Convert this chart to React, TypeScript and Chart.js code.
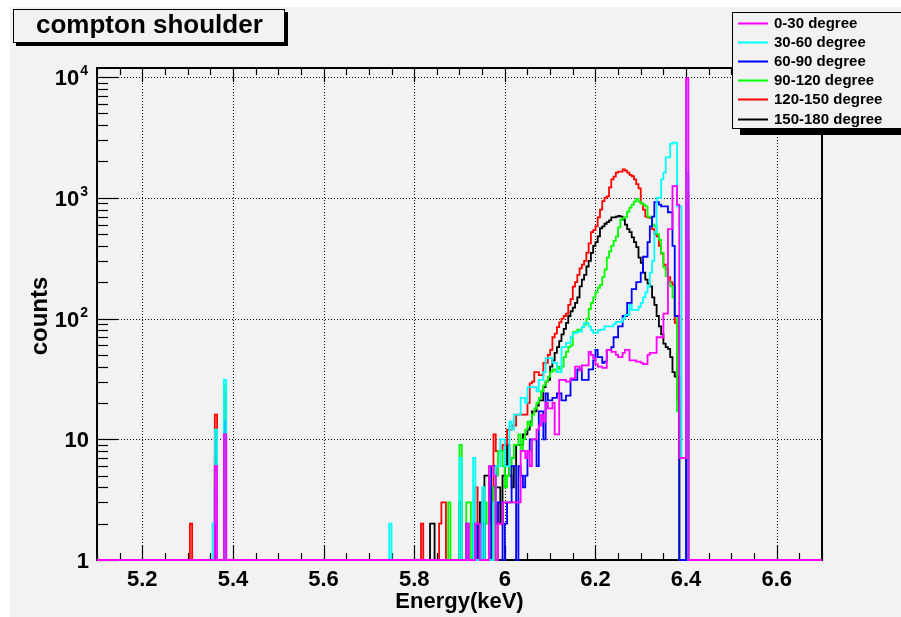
import React, { useEffect, useRef } from 'react';
import { Chart, registerables } from 'chart.js';

Chart.register(...registerables);

// ---------- axis setup ----------
const X_MIN = 5.1;
const X_MAX = 6.7;
const BIN_WIDTH = 0.005;
const MAIN_START = 5.8; // first energy of the "main" arrays below
const Y_MIN = 1;
const Y_MAX = 11900;

const xTickValues = [5.2, 5.4, 5.6, 5.8, 6.0, 6.2, 6.4, 6.6];
const xTickLabels = ['5.2', '5.4', '5.6', '5.8', '6', '6.2', '6.4', '6.6'];
const yTickValues = [1, 10, 100, 1000, 10000];
const yTickBase = ['1', '10', '10', '10', '10'];
const yTickExp = ['', '', '2', '3', '4'];

const seriesLabels = ['0-30 degree', '30-60 degree', '60-90 degree', '90-120 degree', '120-150 degree', '150-180 degree'];
const seriesColors = ['#ff00ff', '#00ffff', '#0000ff', '#00ff00', '#ff0000', '#000000'];

// ---------- isolated low-energy bins: [energy (bin low edge), counts] ----------
const magentaLow = [[5.36, 6], [5.38, 11]];
const cyanLow = [[5.355, 2], [5.36, 12], [5.38, 31], [5.745, 2]];
const blueLow = [[5.36, 4], [5.38, 14]];
const greenLow = [[5.36, 5], [5.38, 28]];
const redLow = [[5.305, 2], [5.36, 16], [5.38, 24]];
const blackLow = [[5.36, 7], [5.38, 9]];

// ---------- main region: counts per 0.005 keV bin, starting at 5.800 keV ----------
const magentaMain = [
  0, 0, 0, 0, 0, 0, 0, 0, 0, 0, 0, 0, 0, 0, 0, 0, 0, 0, 0, 0,
  0, 0, 0, 2, 0, 0, 0, 2, 2, 0, 0, 0, 0, 6, 6, 5, 0, 2, 2, 3,
  3, 3, 3, 3, 3, 3, 3, 8, 8, 7, 8, 6, 10, 10, 12, 13, 16, 14, 20, 18,
  18, 20, 11, 11, 31, 31, 31, 30, 30, 32, 32, 40, 40, 37, 41, 41, 41, 53, 50, 47,
  42, 40, 40, 39, 39, 55, 55, 53, 53, 50, 48, 48, 52, 55, 55, 45, 45, 45, 44, 44,
  43, 42, 42, 50, 52, 52, 52, 70, 70, 70, 110, 110, 550, 550, 1250, 1250, 880, 7, 7, 7,
  9800, 0,
];
const cyanMain = [
  0, 0, 0, 0, 0, 0, 0, 0, 0, 0, 0, 0, 0, 0, 0, 0, 0, 0, 0, 0,
  7, 0, 0, 0, 0, 0, 7, 0, 0, 0, 4, 0, 0, 0, 0, 3, 6, 6, 10, 10,
  6, 6, 14, 12, 16, 16, 16, 22, 22, 20, 27, 27, 27, 27, 25, 31, 31, 36, 47, 47,
  47, 43, 43, 36, 36, 58, 58, 63, 63, 70, 76, 76, 78, 78, 85, 92, 92, 86, 80, 76,
  76, 80, 81, 81, 86, 86, 86, 86, 90, 94, 94, 94, 100, 107, 107, 130, 118, 118, 118, 125,
  135, 150, 165, 185, 240, 300, 520, 1000, 1000, 1420, 1620, 2160, 2160, 2800, 2870, 2870, 850, 850, 7, 7,
  8700, 0,
];
const blueMain = [
  0, 0, 0, 0, 0, 0, 0, 0, 0, 0, 0, 0, 0, 0, 0, 0, 0, 0, 0, 0,
  0, 0, 0, 2, 0, 0, 0, 2, 0, 0, 2, 0, 0, 0, 6, 6, 2, 3, 3, 0,
  2, 3, 3, 6, 6, 0, 6, 5, 4, 5, 8, 10, 10, 10, 6, 17, 17, 10, 24, 21,
  21, 22, 22, 24, 24, 21, 21, 23, 23, 31, 31, 31, 38, 38, 31, 31, 31, 38, 38, 45,
  55, 48, 48, 43, 44, 55, 55, 58, 70, 70, 86, 86, 105, 105, 135, 135, 175, 175, 200, 200,
  240, 325, 325, 430, 580, 700, 920, 920, 880, 850, 850, 850, 760, 760, 400, 105, 105, 0, 0, 0,
  1600, 0,
];
const greenMain = [
  0, 0, 0, 0, 0, 0, 0, 0, 0, 0, 0, 0, 0, 0, 0, 3, 0, 0, 0, 0,
  9, 0, 0, 3, 3, 0, 0, 0, 0, 0, 0, 3, 2, 0, 4, 0, 5, 8, 8, 6,
  4, 5, 6, 7, 9, 9, 11, 8, 10, 12, 14, 13, 16, 18, 20, 22, 25, 28, 30, 33,
  36, 38, 37, 40, 38, 40, 48, 53, 58, 60, 77, 78, 81, 81, 85, 89, 100, 120, 135, 150,
  165, 180, 190, 220, 255, 320, 360, 400, 440, 480, 570, 660, 680, 690, 770, 830, 880, 930, 980, 930,
  900, 880, 850, 700, 690, 600, 580, 500, 450, 350, 265, 225, 200, 185, 150, 105, 17, 0, 0, 0,
  820, 0,
];
const redMain = [
  0, 0, 0, 2, 0, 0, 0, 0, 0, 0, 0, 2, 3, 3, 0, 0, 0, 0, 0, 0,
  0, 0, 0, 0, 0, 0, 0, 4, 0, 0, 0, 0, 0, 0, 0, 11, 8, 8, 8, 9,
  9, 12, 12, 13, 13, 16, 16, 16, 16, 16, 20, 29, 30, 36, 36, 34, 34, 43, 43, 50,
  55, 70, 75, 85, 93, 100, 105, 110, 130, 145, 184, 200, 230, 260, 280, 300, 350, 420, 520, 540,
  580, 690, 800, 940, 1000, 1030, 1220, 1420, 1500, 1620, 1650, 1650, 1720, 1680, 1620, 1550, 1510, 1420, 1300, 1200,
  900, 800, 700, 690, 680, 550, 500, 480, 400, 345, 280, 255, 220, 200, 190, 92, 21, 0, 0, 0,
  1100, 0,
];
const blackMain = [
  0, 0, 0, 0, 0, 0, 0, 2, 2, 0, 0, 0, 0, 0, 0, 0, 0, 0, 0, 0,
  3, 0, 0, 0, 0, 0, 2, 0, 2, 3, 0, 5, 5, 2, 3, 4, 4, 4, 2, 5,
  6, 9, 5, 4, 6, 9, 9, 9, 11, 11, 12, 14, 17, 17, 19, 21, 21, 27, 30, 31,
  40, 45, 52, 58, 65, 74, 82, 92, 105, 115, 123, 135, 150, 185, 210, 230, 270, 300, 350, 400,
  430, 480, 560, 580, 610, 630, 650, 690, 690, 700, 710, 700, 660, 600, 550, 520, 470, 430, 390, 320,
  290, 240, 210, 195, 185, 150, 130, 105, 86, 74, 62, 58, 56, 48, 36, 33, 33, 0, 0, 0,
  435, 0,
];

const seriesLow = [magentaLow, cyanLow, blueLow, greenLow, redLow, blackLow];
const seriesMain = [magentaMain, cyanMain, blueMain, greenMain, redMain, blackMain];

const FONT = '"Liberation Sans", Arial, Helvetica, sans-serif';

function buildCounts(low: number[][], main: number[]): number[] {
  const nBins = Math.round((X_MAX - X_MIN) / BIN_WIDTH);
  const counts = new Array(nBins).fill(0);
  low.forEach(([e, c]) => {
    counts[Math.round((e - X_MIN) / BIN_WIDTH)] = c;
  });
  const start = Math.round((MAIN_START - X_MIN) / BIN_WIDTH);
  main.forEach((c, k) => {
    if (start + k < nBins) counts[start + k] = c;
  });
  return counts;
}

function toPoints(counts: number[]) {
  const pts = counts.map((c, i) => ({ x: X_MIN + i * BIN_WIDTH, y: Math.max(c, Y_MIN) }));
  pts.push({ x: X_MAX, y: Y_MIN });
  return pts;
}

const decorPlugin = {
  id: 'rootDecor',
  beforeDraw(chart: any) {
    const ctx = chart.ctx;
    ctx.save();
    ctx.fillStyle = '#ffffff';
    ctx.fillRect(0, 0, chart.width, chart.height);
    ctx.fillStyle = '#f2f2f2';
    ctx.fillRect(10, 7, chart.width - 10, chart.height - 7);
    ctx.restore();
  },
  beforeDatasetsDraw(chart: any) {
    const ctx = chart.ctx;
    const a = chart.chartArea;
    const xs = chart.scales.x;
    const ys = chart.scales.y;
    ctx.save();
    // dotted grid
    ctx.strokeStyle = '#000000';
    ctx.lineWidth = 1;
    ctx.setLineDash([1, 2]);
    xTickValues.forEach((v) => {
      const px = Math.round(xs.getPixelForValue(v)) + 0.5;
      ctx.beginPath();
      ctx.moveTo(px, a.top);
      ctx.lineTo(px, a.bottom);
      ctx.stroke();
    });
    yTickValues.forEach((v) => {
      if (v <= Y_MIN) return;
      const py = Math.round(ys.getPixelForValue(v)) + 0.5;
      ctx.beginPath();
      ctx.moveTo(a.left, py);
      ctx.lineTo(a.right, py);
      ctx.stroke();
    });
    ctx.setLineDash([]);
    // frame
    ctx.lineWidth = 2;
    ctx.strokeRect(a.left, a.top, a.right - a.left, a.bottom - a.top);
    // x ticks (bottom & top), minor every 0.05
    ctx.lineWidth = 1.2;
    for (let k = 0; k <= 32; k++) {
      const v = X_MIN + k * 0.05;
      const major = Math.abs(((v - 5.2) / 0.2) - Math.round((v - 5.2) / 0.2)) < 1e-6;
      const len = major ? 14 : 7;
      const px = Math.round(xs.getPixelForValue(v)) + 0.5;
      ctx.beginPath();
      ctx.moveTo(px, a.bottom);
      ctx.lineTo(px, a.bottom - len);
      ctx.moveTo(px, a.top);
      ctx.lineTo(px, a.top + len);
      ctx.stroke();
    }
    // y ticks (log), left side
    for (let d = 1; d <= 10000; d *= 10) {
      for (let m = 1; m <= 9; m++) {
        const v = d * m;
        if (v > Y_MAX) continue;
        const py = Math.round(ys.getPixelForValue(v)) + 0.5;
        const len = m === 1 ? 21 : 11;
        ctx.beginPath();
        ctx.moveTo(a.left, py);
        ctx.lineTo(a.left + len, py);
        ctx.stroke();
      }
    }
    ctx.restore();
  },
  afterDatasetsDraw(chart: any) {
    const ctx = chart.ctx;
    const a = chart.chartArea;
    const xs = chart.scales.x;
    const ys = chart.scales.y;
    ctx.save();
    ctx.fillStyle = '#000000';
    // x tick labels
    ctx.font = `bold 22px ${FONT}`;
    ctx.textAlign = 'center';
    ctx.textBaseline = 'alphabetic';
    xTickValues.forEach((v, i) => {
      ctx.fillText(xTickLabels[i], xs.getPixelForValue(v), 586);
    });
    // y tick labels
    yTickValues.forEach((v, i) => {
      const py = ys.getPixelForValue(v);
      ctx.textAlign = 'left';
      if (yTickExp[i]) {
        ctx.font = `bold 14px ${FONT}`;
        const we = ctx.measureText(yTickExp[i]).width;
        ctx.font = `bold 22px ${FONT}`;
        const wb = ctx.measureText(yTickBase[i]).width;
        const right = 88;
        ctx.fillText(yTickBase[i], right - we - 1 - wb, py + 8);
        ctx.font = `bold 14px ${FONT}`;
        ctx.fillText(yTickExp[i], right - we, py - 2);
      } else {
        ctx.font = `bold 22px ${FONT}`;
        ctx.textAlign = 'right';
        ctx.fillText(yTickBase[i], 89, py + 8);
      }
    });
    // axis titles
    ctx.font = `bold 22px ${FONT}`;
    ctx.textAlign = 'center';
    ctx.fillText('Energy(keV)', (a.left + a.right) / 2, 608);
    ctx.save();
    ctx.translate(47, (a.top + a.bottom) / 2 + 2);
    ctx.rotate(-Math.PI / 2);
    ctx.font = `bold 24px ${FONT}`;
    ctx.textAlign = 'center';
    ctx.fillText('counts', 0, 0);
    ctx.restore();

    // title box
    ctx.fillStyle = '#000000';
    ctx.fillRect(16, 43, 271, 3);
    ctx.fillRect(285, 12, 3, 34);
    ctx.fillStyle = '#f2f2f2';
    ctx.fillRect(14, 10, 270, 32);
    ctx.strokeStyle = '#000000';
    ctx.lineWidth = 1;
    ctx.strokeRect(13.5, 9.5, 271, 33);
    ctx.fillStyle = '#000000';
    ctx.font = `bold 26px ${FONT}`;
    ctx.textAlign = 'left';
    ctx.fillText('compton shoulder', 36, 33);

    // legend box
    ctx.fillStyle = '#000000';
    ctx.fillRect(740, 129, 170, 6);
    ctx.fillStyle = '#f2f2f2';
    ctx.fillRect(733, 13, 180, 116);
    ctx.strokeStyle = '#000000';
    ctx.lineWidth = 1;
    ctx.strokeRect(732.5, 12.5, 180, 116);
    ctx.font = `bold 15px ${FONT}`;
    ctx.textBaseline = 'middle';
    seriesLabels.forEach((lab, i) => {
      const ry = 22.5 + i * 19.2;
      ctx.strokeStyle = seriesColors[i];
      ctx.lineWidth = 2;
      ctx.beginPath();
      ctx.moveTo(738, Math.round(ry) + 0.5);
      ctx.lineTo(768, Math.round(ry) + 0.5);
      ctx.stroke();
      ctx.fillStyle = '#000000';
      ctx.fillText(lab, 774, ry + 1);
    });
    ctx.restore();
  },
};

export default function App() {
  const canvasRef = useRef<HTMLCanvasElement | null>(null);

  useEffect(() => {
    if (!canvasRef.current) return;
    const datasets = seriesLabels.map((label, i) => ({
      label,
      data: toPoints(buildCounts(seriesLow[i], seriesMain[i])),
      borderColor: seriesColors[i],
      backgroundColor: seriesColors[i],
      borderWidth: 1.8,
      pointRadius: 0,
      stepped: true as const,
      fill: false,
      tension: 0,
      clip: 4,
    }));
    const chart = new Chart(canvasRef.current, {
      type: 'line',
      data: { datasets },
      options: {
        animation: false,
        responsive: false,
        maintainAspectRatio: false,
        parsing: false,
        normalized: true,
        events: [],
        layout: { padding: { left: 97, top: 68, right: 79, bottom: 57 } },
        scales: {
          x: { type: 'linear', min: X_MIN, max: X_MAX, display: false },
          y: { type: 'logarithmic', min: Y_MIN, max: Y_MAX, display: false },
        },
        plugins: {
          legend: { display: false },
          tooltip: { enabled: false },
          title: { display: false },
        },
      },
      plugins: [decorPlugin],
    });
    return () => chart.destroy();
  }, []);

  return (
    <div style={{ position: 'fixed', left: 0, top: 0, width: 901, height: 617 }}>
      <canvas ref={canvasRef} width={901} height={617} style={{ display: 'block', width: 901, height: 617 }} />
    </div>
  );
}
